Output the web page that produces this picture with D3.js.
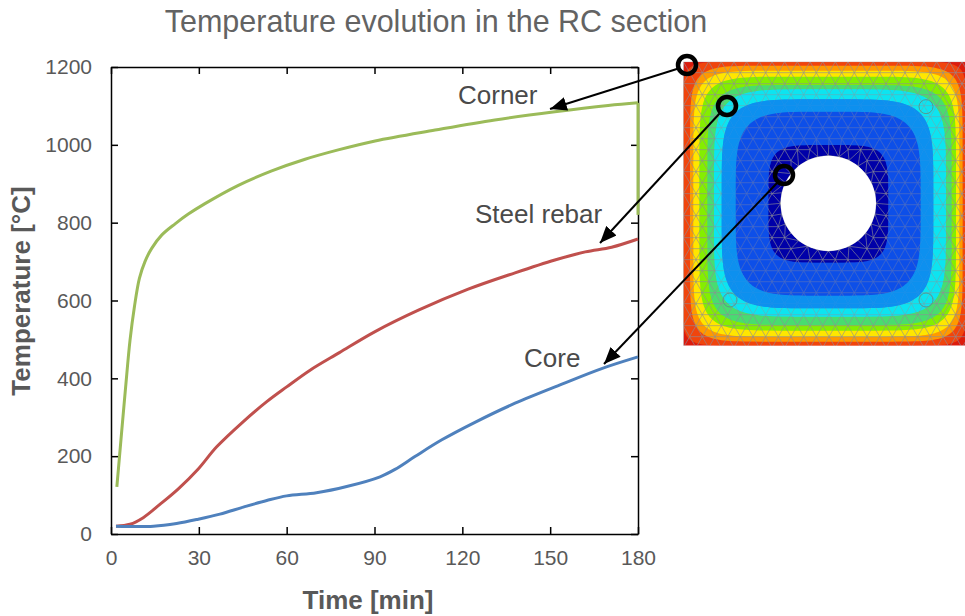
<!DOCTYPE html>
<html>
<head>
    <meta charset="UTF-8">
    <title>Temperature evolution in the RC section</title>
    <style>
        body { margin: 0; background-color: #FFFFFF; }
        svg { display: block; font-family: "Liberation Sans", Arial, sans-serif; }
        .axis path, .axis line { stroke: #000; stroke-width: 1.5px; }
        .axis text { font-size: 21px; fill: #595959; font-family: "Liberation Sans", Arial, sans-serif; }
    </style>
</head>
<body>
    <div id="graph-container"></div>
    <script src="https://cdn.jsdelivr.net/npm/d3@7"></script>
    <script>
        // values
        const cornerTime = [2, 3.6, 5, 6.5, 8, 9.7, 11.6, 13.9, 17.3, 21.9, 26.4, 32.1, 43.5, 54.9, 66.3, 77.6, 90.2, 110.7, 131.1, 151.6, 169.8, 180];
        const cornerTemp = [121, 259, 378, 498, 584, 657, 700, 734, 768, 797, 822, 849, 896, 933, 963, 987, 1010, 1038, 1064, 1085, 1101, 1108];
        const cornerDropTime = [180, 180];
        const cornerDropTemp = [1108, 820];
        const rebarTime = [1.7, 6.5, 11, 16.7, 23, 29.8, 36.1, 45.2, 53.2, 60, 68, 78, 90.2, 105, 122, 138, 151.6, 162, 171, 180];
        const rebarTemp = [20, 25, 42, 76, 116, 167, 224, 289, 340, 378, 421, 466, 520, 575, 629, 671, 704, 725, 737, 758];
        const coreTime = [1.7, 14.5, 22.4, 29.8, 37.2, 45.2, 53.2, 60, 70.2, 80.5, 91.9, 97, 103.8, 113, 124.3, 138, 154, 167.6, 180];
        const coreTemp = [20, 20, 27, 38, 51, 69, 86, 98, 106, 122, 147, 166, 199, 242, 287, 336, 385, 425, 455];
        const xTicks = [0, 30, 60, 90, 120, 150, 180];
        const yTicks = [0, 200, 400, 600, 800, 1000, 1200];

        // contour bands of the section, outer to inner
        const bandLeft = [36, 60, 70, 88, 112, 132, 155, 197, 295];
        const bandTop = [35, 47, 62, 80, 105, 118, 148, 185, 285];
        const bandRight = [890, 878, 868, 858, 845, 828, 790, 752, 655];
        const bandBottom = [887, 875, 860, 842, 825, 800, 775, 737, 638];
        const bandPower = [14, 9, 8, 7, 6.5, 5.5, 5, 4.5, 4.8];
        const bandColor = ["#f0440f", "#ff9a00", "#ffe600", "#84ee00", "#48dc70", "#10e4f0", "#1090ee", "#1050e8", "#0000a8"];

        const width = 965, height = 616;
        const margin = { top: 67, right: 327, bottom: 82, left: 111 };

        const svg = d3.select("#graph-container").append("svg")
            .attr("width", width)
            .attr("height", height);

        const x = d3.scaleLinear().domain([0, 180]).range([margin.left, width - margin.right]);
        const y = d3.scaleLinear().domain([0, 1200]).range([height - margin.bottom, margin.top]);

        // section picture on the right, in its own coordinates
        const sx = d3.scaleLinear().domain([0, 885]).range([670, 965]);
        const sy = d3.scaleLinear().domain([0, 900]).range([50, 350]);
        const sectionX0 = 40, sectionX1 = 885, sectionY0 = 35, sectionY1 = 887;
        const holeX = 475, holeY = 460, holeR = 143;

        const defs = svg.append("defs");
        defs.append("clipPath").attr("id", "section-clip").append("rect")
            .attr("x", sx(sectionX0)).attr("y", sy(sectionY0))
            .attr("width", sx(sectionX1) - sx(sectionX0)).attr("height", sy(sectionY1) - sy(sectionY0));
        defs.append("filter").attr("id", "soft").append("feGaussianBlur").attr("stdDeviation", 0.35);

        const section = svg.append("g").attr("clip-path", "url(#section-clip)").attr("filter", "url(#soft)");
        section.append("rect")
            .attr("x", sx(sectionX0)).attr("y", sy(sectionY0))
            .attr("width", sx(sectionX1) - sx(sectionX0)).attr("height", sy(sectionY1) - sy(sectionY0))
            .attr("fill", "#dc1c10");

        // rounded contour outline as a superellipse
        const bandPath = i => {
            const cx = (bandLeft[i] + bandRight[i]) / 2, cy = (bandTop[i] + bandBottom[i]) / 2;
            const a = (bandRight[i] - bandLeft[i]) / 2, b = (bandBottom[i] - bandTop[i]) / 2;
            const e = 2 / bandPower[i];
            const outline = d3.range(0, 2 * Math.PI, Math.PI / 90).map(t => {
                const c = Math.cos(t), s = Math.sin(t);
                return [sx(cx + a * Math.sign(c) * Math.pow(Math.abs(c), e)),
                        sy(cy + b * Math.sign(s) * Math.pow(Math.abs(s), e))];
            });
            return d3.line()(outline) + "Z";
        };
        section.selectAll(".band")
            .data(bandColor)
            .enter().append("path")
            .attr("class", "band")
            .attr("d", (d, i) => bandPath(i))
            .attr("fill", d => d);

        // triangle mesh over the bands
        const meshPoints = [];
        const step = 38, rowH = 33;
        d3.range(sectionY0, sectionY1 + rowH, rowH).forEach((py, row) => {
            d3.range(sectionX0 + (row % 2 ? step / 2 : 0), sectionX1 + step, step).forEach(px => {
                if (Math.hypot(px - holeX, py - holeY) > holeR + 20) meshPoints.push([px, py]);
            });
        });
        d3.range(0, 2 * Math.PI, Math.PI / 14).forEach(a => {
            meshPoints.push([holeX + holeR * Math.cos(a), holeY + holeR * Math.sin(a)]);
        });
        section.append("path")
            .attr("d", d3.Delaunay.from(meshPoints, d => sx(d[0]), d => sy(d[1])).render())
            .attr("fill", "none")
            .attr("stroke", "#8f8f95")
            .attr("stroke-opacity", 0.75)
            .attr("stroke-width", 0.85);

        // the mesh fades out in the cyan and blue rings
        [[5, 0.35], [6, 0.95], [7, 0.5]].forEach(r => {
            section.append("path")
                .attr("d", bandPath(r[0]) + bandPath(r[0] + 1))
                .attr("fill-rule", "evenodd")
                .attr("fill", bandColor[r[0]])
                .attr("fill-opacity", r[1]);
        });

        section.append("circle")
            .attr("cx", sx(holeX)).attr("cy", sy(holeY)).attr("r", sx(holeR) - sx(0))
            .attr("fill", "#fff");

        // rebars
        section.selectAll(".rebar")
            .data([[768, 170], [180, 750], [768, 750]])
            .enter().append("circle")
            .attr("class", "rebar")
            .attr("cx", d => sx(d[0])).attr("cy", d => sy(d[1])).attr("r", 7)
            .attr("fill", "none").attr("stroke", "#5f8f88").attr("stroke-width", 0.9);

        // axes with inward ticks
        svg.append("g").attr("class", "x axis")
            .attr("transform", "translate(0," + y(0) + ")")
            .call(d3.axisBottom(x).tickValues(xTicks).tickSizeInner(-7).tickSizeOuter(0).tickPadding(16));
        svg.append("g").attr("class", "y axis")
            .attr("transform", "translate(" + x(0) + ",0)")
            .call(d3.axisLeft(y).tickValues(yTicks).tickFormat(d3.format("d")).tickSizeInner(-7).tickSizeOuter(0).tickPadding(19));
        svg.append("g").attr("class", "axis")
            .attr("transform", "translate(0," + y(1200) + ")")
            .call(d3.axisTop(x).tickValues(xTicks).tickSizeInner(-7).tickSizeOuter(0).tickFormat(""));
        svg.append("g").attr("class", "axis")
            .attr("transform", "translate(" + x(180) + ",0)")
            .call(d3.axisRight(y).tickValues(yTicks).tickSizeInner(-7).tickSizeOuter(0).tickFormat(""));

        // curves
        const line = d3.line().x(d => x(d[0])).y(d => y(d[1])).curve(d3.curveCatmullRom.alpha(0.5));
        const series = [
            { t: cornerDropTime, v: cornerDropTemp, color: "#9BBB59" },
            { t: cornerTime, v: cornerTemp, color: "#9BBB59" },
            { t: rebarTime, v: rebarTemp, color: "#C0504D" },
            { t: coreTime, v: coreTemp, color: "#4F81BD" }
        ];
        svg.selectAll(".curve")
            .data(series)
            .enter().append("path")
            .attr("class", "curve")
            .attr("d", d => line(d3.zip(d.t, d.v)))
            .attr("fill", "none")
            .attr("stroke", d => d.color)
            .attr("stroke-width", 3);

        // titles
        svg.append("text").attr("x", 436).attr("y", 32).attr("text-anchor", "middle")
            .attr("font-size", 30.5).attr("fill", "#636363")
            .text("Temperature evolution in the RC section");
        svg.append("text").attr("x", 368).attr("y", 609).attr("text-anchor", "middle")
            .attr("font-size", 26).attr("font-weight", "bold").attr("fill", "#595959")
            .text("Time [min]");
        svg.append("text").attr("transform", "translate(30,291) rotate(-90)").attr("text-anchor", "middle")
            .attr("font-size", 26).attr("font-weight", "bold").attr("fill", "#595959")
            .text("Temperature [°C]");

        // curve labels
        const labels = [["Corner", 458, 104], ["Steel rebar", 475, 223], ["Core", 524, 367]];
        svg.selectAll(".curve-label")
            .data(labels)
            .enter().append("text")
            .attr("class", "curve-label")
            .attr("x", d => d[1]).attr("y", d => d[2])
            .attr("font-size", 26).attr("fill", "#4a4a4a")
            .text(d => d[0]);

        // arrows from the section to the curves
        defs.append("marker").attr("id", "arrow")
            .attr("viewBox", "0 0 12 10").attr("refX", 12).attr("refY", 5)
            .attr("markerWidth", 17).attr("markerHeight", 14)
            .attr("markerUnits", "userSpaceOnUse").attr("orient", "auto")
            .append("path").attr("d", "M0,0L12,5L0,10Z").attr("fill", "#000");
        const arrows = [[680, 68, 550, 109], [720, 113, 600, 243], [778, 182, 604, 364]];
        svg.selectAll(".arrow")
            .data(arrows)
            .enter().append("line")
            .attr("class", "arrow")
            .attr("x1", d => d[0]).attr("y1", d => d[1])
            .attr("x2", d => d[2]).attr("y2", d => d[3])
            .attr("stroke", "#000").attr("stroke-width", 2)
            .attr("marker-end", "url(#arrow)");

        // probe rings
        svg.selectAll(".probe")
            .data([[687, 65], [727, 106], [784, 175]])
            .enter().append("circle")
            .attr("class", "probe")
            .attr("cx", d => d[0]).attr("cy", d => d[1]).attr("r", 9)
            .attr("fill", "none").attr("stroke", "#000").attr("stroke-width", 4.5);
    </script>
</body>
</html>
